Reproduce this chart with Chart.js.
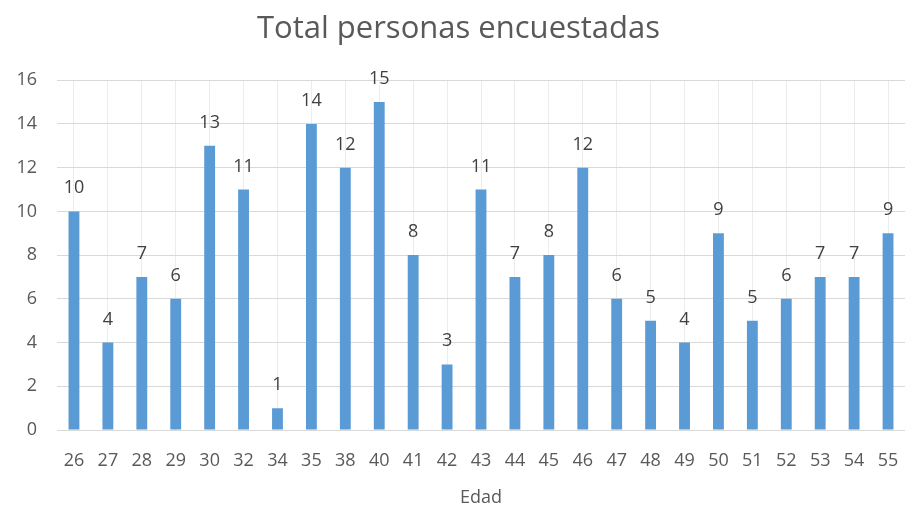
<!DOCTYPE html>
<html>
<head>
<meta charset="utf-8">
<script src="https://cdn.jsdelivr.net/npm/chart.js@4/dist/chart.umd.min.js"></script>
<style>
  html, body { margin: 0; padding: 0; background: #fff; }
  #wrap { width: 905px; height: 509px; position: relative; }
</style>
</head>
<body>
<div id="wrap"><canvas id="chart" width="905" height="509"></canvas></div>
<script>
const ages = ['26','27','28','29','30','32','34','35','38','40','41','42','43','44','45','46','47','48','49','50','51','52','53','54','55'];
const personas = [10,4,7,6,13,11,1,14,12,15,8,3,11,7,8,12,6,5,4,9,5,6,7,7,9];
const yTicks = [0,2,4,6,8,10,12,14,16];

const FONT = '"Open Sans", sans-serif'

// value labels above each bar
const valueLabels = {
  id: 'valueLabels',
  afterDatasetsDraw: (c) => {
    const ctx = c.ctx
    const meta = c.getDatasetMeta(0)
    ctx.save()
    ctx.fillStyle = '#404040'
    ctx.font = '18px ' + FONT
    ctx.textAlign = 'center'
    ctx.textBaseline = 'alphabetic'
    meta.data.forEach((bar, i) => {
      ctx.fillText(String(personas[i]), bar.x, bar.y - 18)
    })
    ctx.restore()
  },
}

new Chart(document.getElementById('chart'), {
  type: 'bar',
  data: {
    labels: ages,
    datasets: [{
      data: personas,
      backgroundColor: '#5B9BD5',
      borderWidth: 0,
      barPercentage: 0.32,
      categoryPercentage: 1,
    }],
  },
  plugins: [valueLabels],
  options: {
    responsive: false,
    animation: false,
    layout: { padding: { left: 12, right: 0, top: 4, bottom: 0 } },
    plugins: {
      legend: { display: false },
      tooltip: { enabled: false },
      title: {
        display: true,
        text: 'Total personas encuestadas',
        color: '#595959',
        font: { family: FONT, size: 31, weight: 'normal' },
        padding: { top: 7, bottom: 32 },
      },
    },
    scales: {
      x: {
        afterFit: (s) => {
          s.paddingLeft = 0
          s.paddingRight = 0
          s.height = 79
        },
        grid: { offset: false, color: '#ececec', drawTicks: false },
        border: { color: '#d9d9d9' },
        ticks: {
          color: '#595959',
          font: { family: FONT, size: 18 },
          padding: 20,
          maxRotation: 0,
          autoSkip: false,
        },
        title: {
          display: true,
          text: 'Edad',
          color: '#595959',
          font: { family: FONT, size: 18 },
          padding: { top: 8, bottom: 0 },
        },
      },
      y: {
        afterFit: (s) => { s.width = 45 },
        min: 0,
        max: 16,
        afterBuildTicks: (s) => { s.ticks = yTicks.map((v) => ({ value: v })) },
        grid: { color: '#d9d9d9', drawTicks: false },
        border: { display: false },
        ticks: {
          color: '#595959',
          font: { family: FONT, size: 18 },
          padding: 20,
        },
      },
    },
  },
})
</script>
</body>
</html>
